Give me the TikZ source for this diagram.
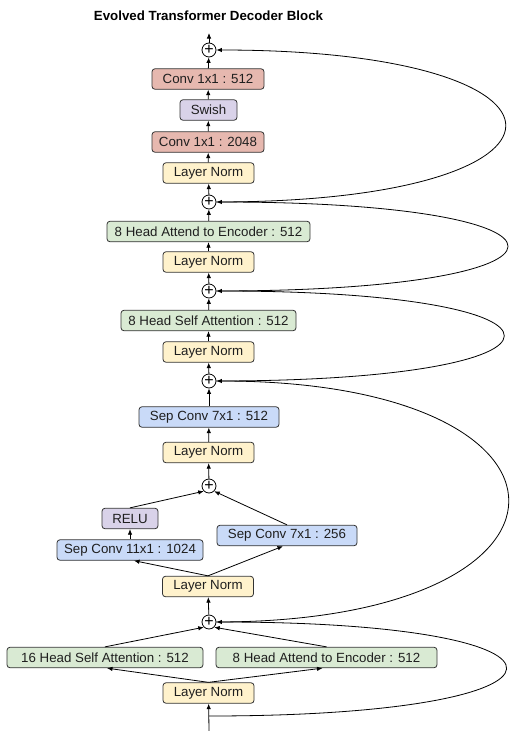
\documentclass[tikz,border=0pt]{standalone}
\usepackage{fontspec}
\setmainfont{Liberation Sans}
\usetikzlibrary{arrows.meta,calc}
\definecolor{cconv}{HTML}{E6B8AF}
\definecolor{cact}{HTML}{D9D2E9}
\definecolor{cnorm}{HTML}{FFF2CC}
\definecolor{catt}{HTML}{D9EAD3}
\definecolor{csep}{HTML}{C9DAF8}
\definecolor{cline}{HTML}{333333}
\tikzset{
  blk/.style={draw=cline, line width=0.8pt, rounded corners=3pt, minimum height=20.5pt,
    inner sep=0pt, font=\fontsize{13.3}{15}\selectfont, text=black!88},
  convbox/.style={blk, fill=cconv},
  actbox/.style={blk, fill=cact},
  normbox/.style={blk, fill=cnorm, minimum width=91pt},
  attbox/.style={blk, fill=catt},
  sepbox/.style={blk, fill=csep},
  plus/.style={draw=black, circle, line width=0.8pt, minimum size=14pt, inner sep=0pt,
    font=\fontsize{16}{16}\selectfont, fill=white},
  arr/.style={-{Latex[length=5.5pt,width=4.5pt]}, line width=0.8pt, black},
}
\begin{document}
\begin{tikzpicture}[x=1pt,y=-1pt]
\useasboundingbox (0,0) rectangle (514,731);
\node[font=\bfseries\fontsize{13.3}{15}\selectfont] (title) at (208.5,16) {Evolved Transformer Decoder Block};

\node[plus] (p1) at (209,50) {\raisebox{0.6pt}{+}};
\node[convbox, minimum width=112pt] (conv512) at (208,79) {Conv 1x1 : 512};
\node[actbox, minimum width=57pt] (swish) at (208.5,110) {Swish};
\node[convbox, minimum width=112pt] (conv2048) at (208,142) {Conv 1x1 : 2048};
\node[normbox] (ln1) at (208.5,173) {Layer Norm};
\node[plus] (p2) at (209,202) {\raisebox{0.6pt}{+}};
\node[attbox, minimum width=203pt] (attenc) at (208.5,231.5) {8 Head Attend to Encoder : 512};
\node[normbox] (ln2) at (208.5,262) {Layer Norm};
\node[plus] (p3) at (209,291) {\raisebox{0.6pt}{+}};
\node[attbox, minimum width=175pt] (selfatt) at (208.5,320.5) {8 Head Self Attention : 512};
\node[normbox] (ln3) at (208.5,352) {Layer Norm};
\node[plus] (p4) at (209,381) {\raisebox{0.6pt}{+}};
\node[sepbox, minimum width=140pt] (sep512) at (209,417) {Sep Conv 7x1 : 512};
\node[normbox] (ln4) at (208.5,452.5) {Layer Norm};
\node[plus] (p5) at (209,486) {\raisebox{0.6pt}{+}};
\node[actbox, minimum width=56pt] (relu) at (130,518.5) {RELU};
\node[sepbox, minimum width=146pt] (sep11) at (130,550) {Sep Conv 11x1 : 1024};
\node[sepbox, minimum width=140pt] (sep7) at (287,535.5) {Sep Conv 7x1 : 256};
\node[normbox] (ln5) at (208,586.5) {Layer Norm};
\node[plus] (p6) at (209,622) {\raisebox{0.6pt}{+}};
\node[attbox, minimum width=196pt] (sa16) at (105,657.5) {16 Head Self Attention : 512};
\node[attbox, minimum width=221pt] (ae8) at (326.5,657.5) {8 Head Attend to Encoder : 512};
\node[normbox] (ln6) at (208.5,693) {Layer Norm};
\coordinate (in) at (209,731);
\coordinate (br) at (209,716);
\coordinate (out) at (209,33);

% vertical flow
\draw[arr] (p1) -- (out);
\draw[arr] (conv512) -- (p1);
\draw[arr] (swish) -- (conv512);
\draw[arr] (conv2048) -- (swish);
\draw[arr] (ln1) -- (conv2048);
\draw[arr] (p2) -- (ln1);
\draw[arr] (attenc) -- (p2);
\draw[arr] (ln2) -- (attenc);
\draw[arr] (p3) -- (ln2);
\draw[arr] (selfatt) -- (p3);
\draw[arr] (ln3) -- (selfatt);
\draw[arr] (p4) -- (ln3);
\draw[arr] (sep512) -- (p4);
\draw[arr] (ln4) -- (sep512);
\draw[arr] (p5) -- (ln4);
\draw[arr] (relu.north) -- (p5.south west);
\draw[arr] (sep7.north) -- (p5.south east);
\draw[arr] (sep11) -- (relu);
\draw[arr] (ln5.north) -- ([xshift=4pt]sep11.south);
\draw[arr] (ln5.north) -- ([xshift=-4pt]sep7.south);
\draw[arr] (p6) -- (ln5);
\draw[arr] (sa16.north) -- (p6.south west);
\draw[arr] (ae8.north) -- (p6.south east);
\draw[arr] (ln6.north) -- ([xshift=2pt]sa16.south);
\draw[arr] (ln6.north) -- ([xshift=-4pt]ae8.south);
\draw[arr] (in) -- (ln6);

% residual curves
\draw[arr] (p2.east) .. controls +(385,0) and +(385,0) .. (p1.east);
\draw[arr] (p3.east) .. controls +(388,0) and +(388,0) .. (p2.east);
\draw[arr] (p4.east) .. controls +(383,0) and +(383,0) .. (p3.east);
\draw[arr] (p6.east) .. controls +(389,0) and +(389,0) .. (p4.east);
\draw[arr] (br) .. controls +(392,0) and +(390,0) .. (p6.east);
\end{tikzpicture}
\end{document}
